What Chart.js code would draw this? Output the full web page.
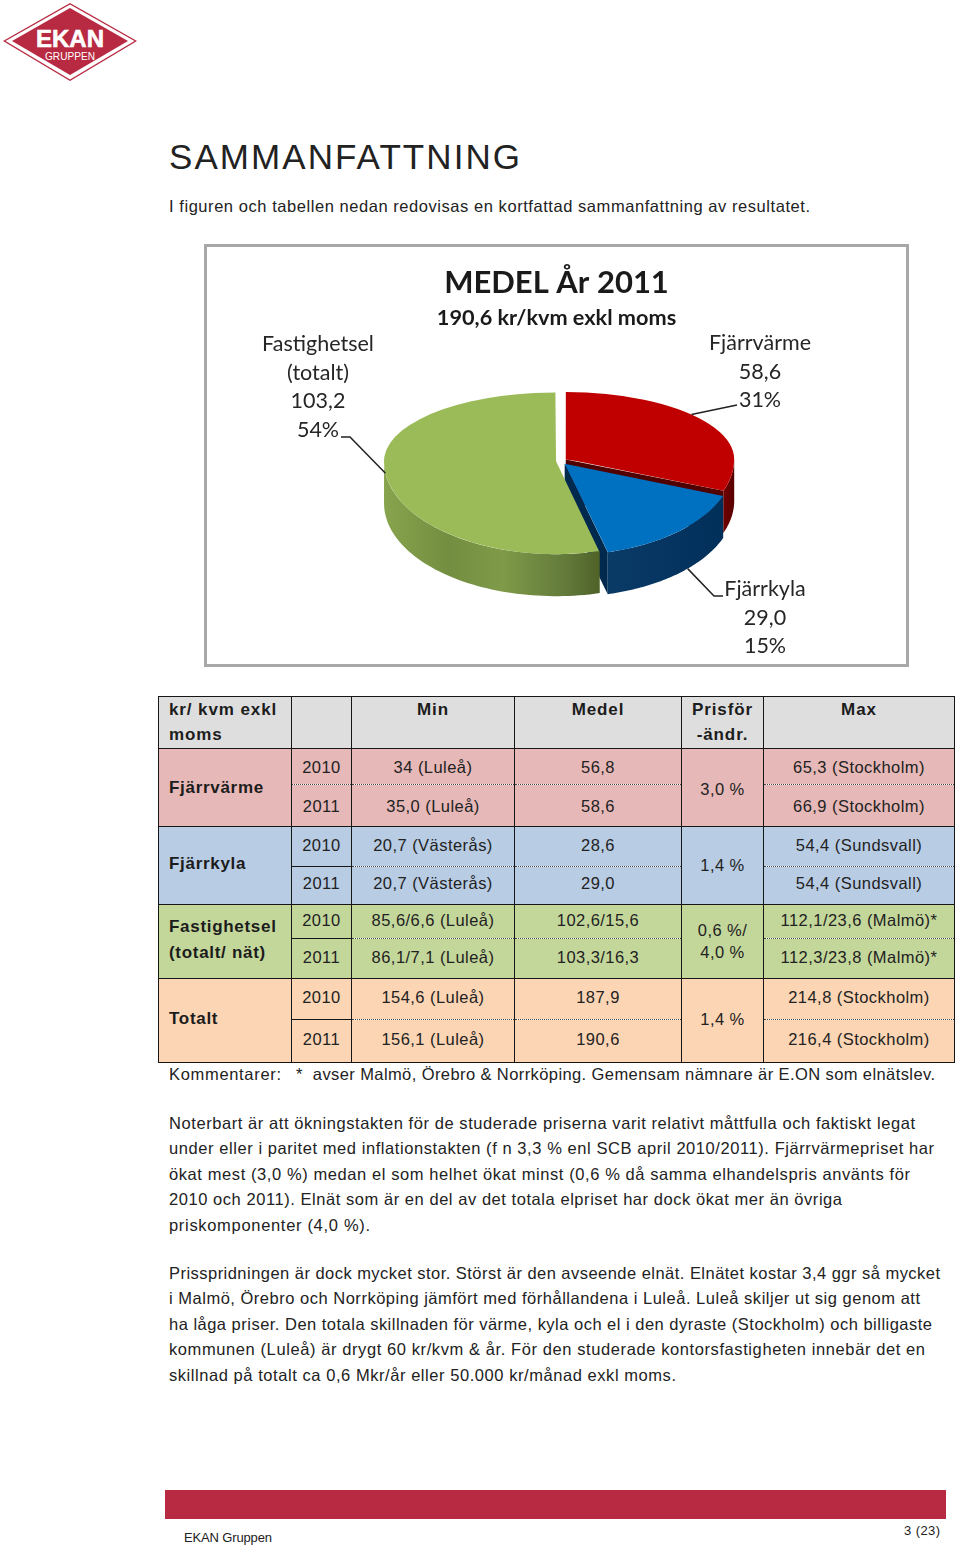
<!DOCTYPE html>
<html lang="sv">
<head>
<meta charset="utf-8">
<title>Sammanfattning</title>
<script src="https://cdn.jsdelivr.net/npm/chart.js@4/dist/chart.umd.min.js"></script>
<style>
  html, body { margin: 0; padding: 0; background: #fff; }
  body { position: relative; width: 960px; height: 1548px; overflow: hidden; font-family: "Liberation Sans", Arial, sans-serif; color: #222; }
  .line { position: absolute; white-space: pre; font-size: 16.5px; line-height: 20px; }
  #frame { position: absolute; left: 204px; top: 244px; width: 699px; height: 417px; border: 3px solid #a8a8a8; background: #fff; }
  #pie { position: absolute; left: 205px; top: 245px; }
  #logo { position: absolute; left: 0; top: 0; }
  #bar { position: absolute; left: 165px; top: 1490px; width: 781px; height: 29px; background: #b82a41; }
  #table { position: absolute; left: 158px; top: 696px; border-collapse: collapse; table-layout: fixed; font-size: 16.5px; letter-spacing: 0.45px; }
  #table td { border: 1.5px solid #161616; padding: 0; text-align: center; vertical-align: middle; overflow: hidden; white-space: pre; }
  #table td.head { vertical-align: top; line-height: 25px; padding: 0; font-size: 17px; }
  #table td.name { text-align: left; padding-left: 10px; font-weight: bold; font-size: 17px; letter-spacing: 0.7px; line-height: 26px; color: #1c1c1c; }
  #table td.dot { border-bottom: 1px dotted #444; }
  #table td.under { border-top: 1px dotted #444; }
  #table td.year.dot { border-bottom: 1px solid #161616; }
  #table td.year.under { border-top: 1px solid #161616; }
  #table tr.first td.year.dot { border-bottom: 1px dotted #444; }
  #table tr.first td.year.under { border-top: 1px dotted #444; }
  #table b { color: #1c1c1c; letter-spacing: 0.9px; }
</style>
</head>
<body>
<svg id="logo" width="140" height="84" viewBox="0 0 140 84">
  <polygon points="3,41 70,3 137,41 70,81" fill="#b82a41"/>
  <polygon points="5.5,41 70,4.5 134.5,41 70,79.5" fill="#fff"/>
  <polygon points="12,41 70,8 128,41 70,75" fill="#b82a41"/>
  <text x="70" y="47" text-anchor="middle" font-family="Liberation Sans" font-weight="bold" font-size="24" fill="#fff" stroke="#fff" stroke-width="0.6" textLength="68" lengthAdjust="spacingAndGlyphs">EKAN</text>
  <text x="70" y="59.5" text-anchor="middle" font-family="Liberation Sans" font-size="11" fill="#fff" textLength="50" lengthAdjust="spacingAndGlyphs">GRUPPEN</text>
</svg>

<div id="frame"></div>
<canvas id="pie" width="703" height="421"></canvas>
<table id="table"></table>
<div id="bar"></div>

<script>
const categories = ["Fjärrvärme", "Fjärrkyla", "Fastighetsel"];
const values = [58.6, 29.0, 103.2];
const colors = ["#c00000", "#0070c0", "#9bbb59"];
const labelLines = [["Fjärrvärme"], ["Fjärrkyla"], ["Fastighetsel", "(totalt)"]];

const chartTitle = "MEDEL År 2011";
const chartSubtitle = "190,6 kr/kvm exkl moms";

// pie look, the reference is a tilted 3d excel pie
const explode = [7, 7, 4];
const pieRadius = 168;
const pieX = 355;
const pieY = 216;
const tiltUp = 0.4;
const tiltDown = 0.54;
const depth = 42;

const wallStops = [
  [[0, "#6e0000"], [1, "#5a0000"]],
  [[0, "#0a3a66"], [1, "#00305a"]],
  [[0, "#88a44e"], [0.3, "#738e40"], [0.55, "#7f9a48"], [0.85, "#62793a"], [1, "#4f6228"]]
];
const cutColors = ["#500000", "#00294d", "#4f6228"];

// label placing in canvas pixels
const labelX = [555, 560, 113];
const labelY = [98, 344, 99];
const labelStep = 28.6;
const leaderTurn = [-7, -4.5, 0];
const leaderDrop = [0, 1, 0];
const leaderEnds = [[[532, 160]], [[509, 351], [518, 351]], [[145, 192], [136, 192]]];

const total = values.reduce((a, b) => a + b, 0);

function comma(v) {
  return v.toFixed(1).replace(".", ",");
}

// same shift and radius growth as ArcElement.draw
function sliceShift(el) {
  const off = el.options.offset / 4;
  const fix = 1 - Math.sin(Math.min(Math.PI, el.circumference));
  const mid = (el.startAngle + el.endAngle) / 2;
  return { grow: off * fix, x: Math.cos(mid) * off, y: Math.sin(mid) * off };
}

function project(el, x, y) {
  const dy = y - el.y;
  return [pieX + x - el.x, pieY + dy * (dy < 0 ? tiltUp : tiltDown)];
}

function rimPoint(el, angle) {
  const s = sliceShift(el);
  const r = el.outerRadius + s.grow;
  return project(el, el.x + s.x + Math.cos(angle) * r, el.y + s.y + Math.sin(angle) * r);
}

function drawWalls(chart) {
  const ctx = chart.ctx;
  const arcs = chart.getDatasetMeta(0).data;
  arcs.forEach((el, i) => {
    const s = sliceShift(el);
    const apex = project(el, el.x + s.x, el.y + s.y);
    const end = rimPoint(el, el.endAngle);
    // cut face
    if (Math.sin(el.endAngle + Math.PI / 2) > 0) {
      ctx.fillStyle = cutColors[i];
      ctx.beginPath();
      ctx.moveTo(apex[0], apex[1]);
      ctx.lineTo(end[0], end[1]);
      ctx.lineTo(end[0], end[1] + depth);
      ctx.lineTo(apex[0], apex[1] + depth);
      ctx.closePath();
      ctx.fill();
    }
    // outer face, only the part facing the viewer
    const from = Math.max(el.startAngle, 0);
    const to = Math.min(el.endAngle, Math.PI);
    if (to <= from) return;
    const top = [];
    for (let k = 0; k <= 60; k++) {
      top.push(rimPoint(el, from + ((to - from) * k) / 60));
    }
    const xs = top.map((p) => p[0]);
    const grad = ctx.createLinearGradient(Math.min(...xs), 0, Math.max(...xs), 0);
    wallStops[i].forEach((st) => grad.addColorStop(st[0], st[1]));
    ctx.fillStyle = grad;
    ctx.beginPath();
    top.forEach((p, k) => (k ? ctx.lineTo(p[0], p[1]) : ctx.moveTo(p[0], p[1])));
    top.slice().reverse().forEach((p) => ctx.lineTo(p[0], p[1] + depth));
    ctx.closePath();
    ctx.fill();
  });
}

const tiltPie = {
  id: "tiltPie",
  beforeDatasetDraw(chart, args) {
    const ctx = chart.ctx;
    const meta = chart.getDatasetMeta(args.index);
    const el = meta.data[0];
    drawWalls(chart);
    [[tiltUp, 0, pieY + 0.5], [tiltDown, pieY, chart.height - pieY]].forEach((part) => {
      ctx.save();
      ctx.beginPath();
      ctx.rect(0, part[1], chart.width, part[2]);
      ctx.clip();
      ctx.translate(pieX, pieY);
      ctx.scale(1, part[0]);
      ctx.translate(-el.x, -el.y);
      meta.controller.draw();
      ctx.restore();
    });
    return false;
  },
  afterDatasetsDraw(chart) {
    const ctx = chart.ctx;
    const arcs = chart.getDatasetMeta(0).data;
    ctx.save();
    arcs.forEach((el, i) => {
      const mid = (el.startAngle + el.endAngle) / 2 + (leaderTurn[i] * Math.PI) / 180;
      const p = rimPoint(el, mid);
      ctx.strokeStyle = "#222";
      ctx.lineWidth = 1.5;
      ctx.beginPath();
      ctx.moveTo(p[0], p[1] + leaderDrop[i] * depth);
      leaderEnds[i].forEach((q) => ctx.lineTo(q[0], q[1]));
      ctx.stroke();

      const rows = labelLines[i].concat([comma(values[i]), Math.round((values[i] / total) * 100) + "%"]);
      ctx.fillStyle = "#262626";
      ctx.font = "21.5px Lato";
      ctx.textAlign = "center";
      ctx.textBaseline = "middle";
      rows.forEach((t, r) => ctx.fillText(t, labelX[i], labelY[i] + r * labelStep));
    });
    ctx.restore();
  }
};

const chart = new Chart(document.getElementById("pie").getContext("2d"), {
  type: "pie",
  plugins: [tiltPie],
  data: {
    labels: categories,
    datasets: [
      {
        data: values,
        backgroundColor: colors,
        borderWidth: 0,
        offset: explode.map((e) => e * 4),
      },
    ],
  },
  options: {
    responsive: false,
    animation: false,
    radius: pieRadius,
    plugins: {
      legend: { display: false },
      tooltip: { enabled: false },
      title: {
        display: true,
        text: chartTitle,
        color: "#1a1a1a",
        font: { family: "Lato", size: 31, weight: "bold" },
        padding: { top: 19, bottom: 2 },
      },
      subtitle: {
        display: true,
        text: chartSubtitle,
        color: "#1a1a1a",
        font: { family: "Lato", size: 21.7, weight: "bold" },
        padding: { top: 2, bottom: 0 },
      },
    },
  },
});

// table
const colWidths = [133, 60, 163, 167, 82, 191];
const rowHeights = [52, 36, 42, 40, 38, 34, 40, 41, 43];
const tableRows = [
  { name: "Fjärrvärme", fill: "#e6b8b7", change: "3,0 %",
    years: [["2010", "34 (Luleå)", "56,8", "65,3 (Stockholm)"], ["2011", "35,0 (Luleå)", "58,6", "66,9 (Stockholm)"]] },
  { name: "Fjärrkyla", fill: "#b8cce4", change: "1,4 %",
    years: [["2010", "20,7 (Västerås)", "28,6", "54,4 (Sundsvall)"], ["2011", "20,7 (Västerås)", "29,0", "54,4 (Sundsvall)"]] },
  { name: "Fastighetsel\n(totalt/ nät)", fill: "#c4d79b", change: "0,6 %/\n4,0 %",
    years: [["2010", "85,6/6,6 (Luleå)", "102,6/15,6", "112,1/23,6 (Malmö)*"], ["2011", "86,1/7,1 (Luleå)", "103,3/16,3", "112,3/23,8 (Malmö)*"]] },
  { name: "Totalt", fill: "#fcd5b4", change: "1,4 %",
    years: [["2010", "154,6 (Luleå)", "187,9", "214,8 (Stockholm)"], ["2011", "156,1 (Luleå)", "190,6", "216,4 (Stockholm)"]] },
];

// small nudges of the cell text, top and bottom padding per row
const rowPad = [[2, 0], [2, 0], [0, 2], [0, 4], [0, 3], [0, 2], [0, 4], [0, 4]];
const namePad = [0, 4, 3, 3];
const changePad = [[2, 0], [0, 2], [0, 2], [0, 4]];
const changeLine = [20, 20, 22, 20];

let html = "<colgroup>" + colWidths.map((w) => '<col style="width:' + w + 'px">').join("") + "</colgroup>";
html += '<tr style="height:' + rowHeights[0] + 'px;background:#dedede">' +
  '<td class="head" style="text-align:left;padding-left:10px"><b>kr/ kvm exkl\nmoms</b></td><td></td>' +
  '<td class="head"><b>Min</b></td><td class="head"><b>Medel</b></td>' +
  '<td class="head"><b>Prisför\n-ändr.</b></td><td class="head"><b>Max</b></td></tr>';
tableRows.forEach((row, i) => {
  row.years.forEach((y, j) => {
    const h = rowHeights[1 + i * 2 + j];
    const pad = rowPad[i * 2 + j];
    const padStyle = ' style="padding:' + pad[0] + "px 0 " + pad[1] + 'px 0"';
    const cls = j === 0 ? "dot" : "under";
    html += '<tr class="' + (i === 0 ? "first" : "") + '" style="height:' + h + "px;background:" + row.fill + '">';
    if (j === 0) {
      html += '<td class="name" rowspan="2" style="padding-bottom:' + namePad[i] + 'px">' + row.name.replace("\n", "<br>") + "</td>";
    }
    html += '<td class="year ' + cls + '"' + padStyle + ">" + y[0] + "</td>";
    html += '<td class="' + cls + '"' + padStyle + ">" + y[1] + "</td>";
    html += '<td class="' + cls + '"' + padStyle + ">" + y[2] + "</td>";
    if (j === 0) {
      html += '<td rowspan="2" style="line-height:' + changeLine[i] + "px;padding:" + changePad[i][0] + "px 0 " + changePad[i][1] + 'px 0">' +
        row.change.replace("\n", "<br>") + "</td>";
    }
    html += '<td class="' + cls + '"' + padStyle + ">" + y[3] + "</td></tr>";
  });
});
document.getElementById("table").innerHTML = html;

// page text, one line each: text, left, right, middle y
const pageLines = [
  ["I figuren och tabellen nedan redovisas en kortfattad sammanfattning av resultatet.", 169, 810, 206],
  ["Kommentarer:", 169, 281, 1074],
  ["*  avser Malmö, Örebro & Norrköping. Gemensam nämnare är E.ON som elnätslev.", 296, 935, 1074],
  ["Noterbart är att ökningstakten för de studerade priserna varit relativt måttfulla och faktiskt legat", 169, 915, 1123],
  ["under eller i paritet med inflationstakten (f n 3,3 % enl SCB april 2010/2011). Fjärrvärmepriset har", 169, 934, 1148],
  ["ökat mest (3,0 %) medan el som helhet ökat minst (0,6 % då samma elhandelspris använts för", 169, 910, 1174],
  ["2010 och 2011). Elnät som är en del av det totala elpriset har dock ökat mer än övriga", 169, 842, 1199],
  ["priskomponenter (4,0 %).", 169, 370, 1225],
  ["Prisspridningen är dock mycket stor. Störst är den avseende elnät. Elnätet kostar 3,4 ggr så mycket", 169, 940, 1273],
  ["i Malmö, Örebro och Norrköping jämfört med förhållandena i Luleå. Luleå skiljer ut sig genom att", 169, 920, 1298],
  ["ha låga priser. Den totala skillnaden för värme, kyla och el i den dyraste (Stockholm) och billigaste", 169, 932, 1324],
  ["kommunen (Luleå) är drygt 60 kr/kvm & år. För den studerade kontorsfastigheten innebär det en", 169, 925, 1349],
  ["skillnad på totalt ca 0,6 Mkr/år eller 50.000 kr/månad exkl moms.", 169, 676, 1375],
];

function addLine(text, left, right, midY, size) {
  const div = document.createElement("div");
  div.className = "line";
  div.textContent = text;
  div.style.left = left + "px";
  div.style.top = midY - 10 + "px";
  if (size) div.style.fontSize = size + "px";
  document.body.appendChild(div);
  const w = div.getBoundingClientRect().width;
  div.style.letterSpacing = (right - left - w) / (text.length - 1) + "px";
}

pageLines.forEach((l) => addLine(l[0], l[1], l[2], l[3]));
addLine("SAMMANFATTNING", 169, 520, 157, 35);
addLine("EKAN Gruppen", 184, 272, 1538, 13);
addLine("3 (23)", 904, 940, 1531, 13);
</script>
</body>
</html>
